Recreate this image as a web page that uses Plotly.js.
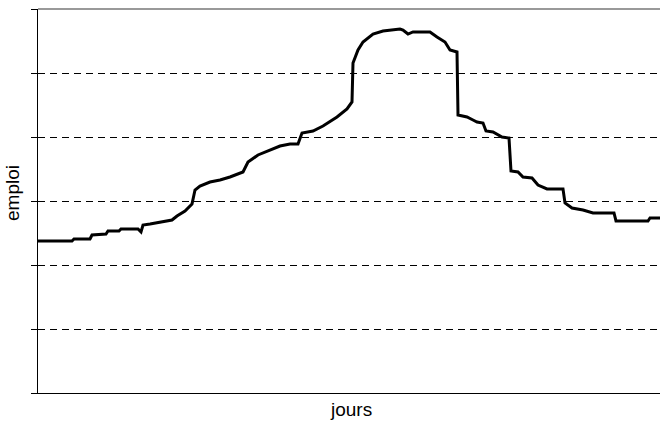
<!DOCTYPE html>
<html>
<head>
<meta charset="utf-8">
<script src="https://cdn.plot.ly/plotly-3.0.1.min.js"></script>
<style>html,body{margin:0;padding:0;background:#fff;}#chart{width:660px;height:423px;}</style>
</head>
<body>
<div id="chart"></div>
<script>
var jours = [0,34,36,52,54,68,70,81,83,100,103,105,112,124,134,139,147,154,157,162,172,182,192,205,210,220,232,242,252,260,264,275,285,299,309,314,315,320,325,335,345,355,362,365,370,375,392,399,407,412,419,420,429,435,439,445,448,455,464,471,473,480,485,494,500,509,525,527,534,545,555,576,578,610,612,622];
var emploi = [2.375,2.375,2.406,2.406,2.469,2.484,2.531,2.531,2.563,2.563,2.516,2.625,2.641,2.672,2.703,2.766,2.844,2.953,3.172,3.234,3.297,3.328,3.375,3.453,3.609,3.719,3.797,3.859,3.891,3.891,4.063,4.094,4.172,4.313,4.438,4.547,5.156,5.359,5.484,5.609,5.656,5.672,5.688,5.672,5.609,5.641,5.641,5.563,5.484,5.359,5.328,4.344,4.313,4.266,4.234,4.219,4.094,4.078,4.0,3.984,3.469,3.453,3.375,3.359,3.25,3.188,3.188,2.969,2.891,2.859,2.813,2.813,2.688,2.688,2.734,2.734];
var yTicks = [0,1,2,3,4,5,6];
var xTitle = 'jours';
var yTitle = 'emploi';

var trace = {
  x: jours, y: emploi, type: 'scatter', mode: 'lines',
  line: {color: '#000000', width: 3}, hoverinfo: 'skip'
};
var layout = {
  width: 660, height: 423,
  margin: {l: 38, r: 0, t: 9, b: 30},
  paper_bgcolor: '#ffffff', plot_bgcolor: '#ffffff',
  showlegend: false,
  font: {family: 'Liberation Sans, Arial, sans-serif', size: 19, color: '#000'},
  xaxis: {
    range: [0, 622], showgrid: false, zeroline: false,
    showline: true, linecolor: '#000', linewidth: 1,
    showticklabels: false, ticks: ''
  },
  yaxis: {
    range: [0, 6], tickvals: yTicks, showticklabels: false,
    ticks: 'outside', ticklen: 6, tickcolor: '#000', tickwidth: 1,
    showgrid: true, gridcolor: '#000', gridwidth: 1, griddash: '7px,5px',
    zeroline: false, showline: true, linecolor: '#000', linewidth: 1
  },
  annotations: [
    {text: xTitle, xref: 'paper', yref: 'paper', x: 0.5, y: 0, xanchor: 'center', yanchor: 'top',
     xshift: 2, yshift: -4, showarrow: false, font: {size: 19}},
    {text: yTitle, xref: 'paper', yref: 'paper', x: 0, y: 0.5, xanchor: 'center', yanchor: 'middle',
     xshift: -26, yshift: 8, textangle: -90, showarrow: false, font: {size: 19}}
  ],
  shapes: [{type: 'line', xref: 'paper', yref: 'paper', x0: 0, x1: 1, y0: 1, y1: 1,
            line: {color: '#999999', width: 2}, layer: 'above'}]
};
Plotly.newPlot('chart', [trace], layout, {displayModeBar: false, staticPlot: true});
</script>
</body>
</html>
